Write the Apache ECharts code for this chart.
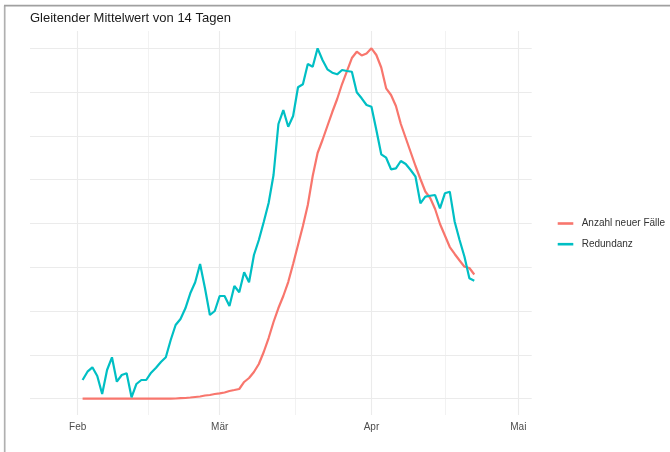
<!DOCTYPE html>
<html>
<head>
<meta charset="utf-8">
<script src="https://cdn.jsdelivr.net/npm/echarts@6/dist/echarts.min.js"></script>
<style>html,body{margin:0;padding:0;background:#fff;}#c{width:670px;height:452px;}</style>
</head>
<body>
<div id="c"></div>
<script>
// Days counted from 1 Feb (day 0); data runs from day 1
const firstDay = 1;
const seriesNames = ['Anzahl neuer Fälle', 'Redundanz'];
// relative values (max = 100)
const faelle = [
  0,0,0,0,0,0,0,0,0,0,
  0,0,0,0,0,0,0,0,0,0.06,
  0.14,0.2,0.34,0.49,0.63,0.91,1.06,1.34,1.54,1.77,
  2.2,2.48,2.77,4.77,5.91,7.62,9.9,13.33,17.32,21.89,
  25.88,29.31,33.3,38.44,43.86,49.29,55.28,63.56,70.12,73.83,
  77.83,81.82,85.53,89.81,93.52,97.23,99.03,97.95,98.52,100,
  98.09,94.52,88.58,86.67,83.53,78.4,74.4,70.41,66.41,62.7,
  59.13,57.28,54.14,49.86,46.58,43.29,41.3,39.44,37.67,37.3,
  35.45
];
const redundanz = [
  5.34,7.71,8.96,6.48,1.34,8.19,11.82,4.85,6.76,7.25,
  0.40,4.20,5.34,5.34,7.42,8.85,10.47,11.82,16.75,21.03,
  22.75,25.80,30.08,33.22,38.44,31.51,23.89,25.03,29.31,29.31,
  26.46,32.16,30.37,36.07,33.22,41.01,45.29,50.43,55.85,63.84,
  78.40,82.39,77.63,80.68,88.87,89.73,95.52,94.75,100,96.66,
  94.01,93.04,92.58,93.81,93.52,93.32,87.44,85.73,83.82,83.33,
  76.68,69.75,68.78,65.47,65.75,67.84,66.98,65.27,63.36,55.77,
  57.65,57.93,58.13,54.34,58.62,59.08,50.51,45.29,40.53,34.36,
  33.68
];
const monthLabels = ['Feb', 'Mär', 'Apr', 'Mai'];
const monthDays = [0, 29, 60, 90];
const minorDays = [14.5, 44.5, 75];
const majorY = [0, 25, 50, 75, 100];
const minorY = [12.5, 37.5, 62.5, 87.5];

function pairs(vals) {
  return vals.map((v, i) => [firstDay + i, v]);
}

const chart = echarts.init(document.getElementById('c'), null, {renderer: 'canvas'});

const gridLines = [];
monthDays.forEach(d => gridLines.push({xAxis: d, lineStyle: {color: '#ebebeb', width: 1.1}}));
minorDays.forEach(d => gridLines.push({xAxis: d, lineStyle: {color: '#f0f0f0', width: 0.9}}));
majorY.forEach(v => gridLines.push({yAxis: v, lineStyle: {color: '#ebebeb', width: 1.1}}));
minorY.forEach(v => gridLines.push({yAxis: v, lineStyle: {color: '#ebebeb', width: 1.0}}));

chart.setOption({
  animation: false,
  backgroundColor: '#fff',
  title: {
    text: 'Gleitender Mittelwert von 14 Tagen',
    left: 30, top: 11.5, padding: 0,
    textStyle: {fontFamily: 'Liberation Sans, Arial, sans-serif', fontSize: 13, fontWeight: 'normal', color: '#1a1a1a'}
  },
  legend: {
    orient: 'vertical',
    left: 552.7, top: 211.5,
    icon: 'rect', itemWidth: 15.6, itemHeight: 2.6, itemGap: 6.7,
    data: seriesNames,
    textStyle: {fontFamily: 'Liberation Sans, Arial, sans-serif', fontSize: 10, color: '#333', lineHeight: 14, padding: [0, 0, 0, 3.4]}
  },
  grid: {left: 30, right: 138.3, top: 31, bottom: 37},
  xAxis: {
    type: 'value', min: -9.74, max: 92.73,
    splitLine: {show: false}, axisLine: {show: false}, axisTick: {show: false},
    axisLabel: {
      customValues: monthDays,
      formatter: v => monthLabels[monthDays.indexOf(v)],
      margin: 7, fontSize: 10, color: '#4d4d4d',
      fontFamily: 'Liberation Sans, Arial, sans-serif'
    }
  },
  yAxis: {
    type: 'value', min: -4.65, max: 104.94,
    splitLine: {show: false}, axisLine: {show: false}, axisTick: {show: false}, axisLabel: {show: false}
  },
  graphic: [
    {type: 'line', shape: {x1: 4.7, y1: 5.7, x2: 4.7, y2: 452}, style: {stroke: '#b0b0b0', lineWidth: 1.7}, z: 100},
    {type: 'line', shape: {x1: 4, y1: 5.7, x2: 670, y2: 5.7}, style: {stroke: '#a0a0a0', lineWidth: 1.7}, z: 100}
  ],
  series: [
    {
      name: '__grid', type: 'line', data: [[0, 0]], showSymbol: false, symbol: 'none',
      lineStyle: {opacity: 0}, silent: true, z: 0,
      markLine: {silent: true, symbol: ['none', 'none'], label: {show: false}, z: 0,
        lineStyle: {type: 'solid'}, emphasis: {disabled: true}, animation: false, data: gridLines}
    },
    {
      name: seriesNames[0], type: 'line', data: pairs(faelle), showSymbol: false, symbol: 'none',
      lineStyle: {color: '#F8766D', width: 2.2}, itemStyle: {color: '#F8766D'}, z: 3
    },
    {
      name: seriesNames[1], type: 'line', data: pairs(redundanz), showSymbol: false, symbol: 'none',
      lineStyle: {color: '#00BFC4', width: 2.2}, itemStyle: {color: '#00BFC4'}, z: 4
    }
  ]
});
</script>
</body>
</html>
